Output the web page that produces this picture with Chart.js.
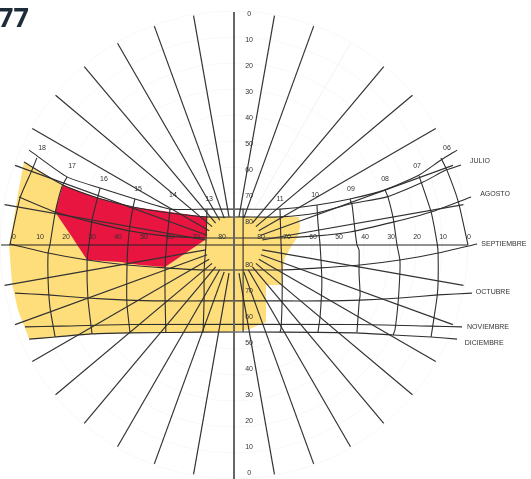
<!DOCTYPE html>
<html>
<head>
<meta charset="utf-8">
<title>Carta solar</title>
<script src="https://cdn.jsdelivr.net/npm/chart.js@4"></script>
<style>
  body { margin: 0; background: #fff; overflow: hidden; }
  #wrap { position: relative; width: 531px; height: 479px; overflow: hidden; }
  #chart { filter: blur(0.5px); }
  #num { position: absolute; left: -2px; top: -2px; font: bold 27px "Open Sans", sans-serif; color: #1e2b38; }
</style>
</head>
<body>
<div id="wrap">
  <canvas id="chart" width="531" height="479"></canvas>
  <div id="num">77</div>
</div>
<script>
// all positions are in degrees of the diagram, 0,0 = centre of the polar grid
const elevationTicks = [0, 10, 20, 30, 40, 50, 60, 70, 80];
const ringRadii = [10, 20, 30, 40, 50, 60, 70, 80, 90];
const northRays = [-80, -70, -60, -50, -40, -30, -20, -10, 10, 20, 40, 50, 60, 70, 80];
const southRays = [-80, -70, -60, -50, -40, -30, -20, -10, 10, 20, 30, 40, 50, 60, 70, 80];
const fadedRays = [30];

// shaded areas
const yellowArea = [[-80.8,31.9],[-65.8,23.1],[-52.3,18.1],[-38.8,14.6],[-24.6,12.3],[-10.4,10.8],[25,10.8],[25.4,6.9],[24.6,3.1],[22.3,0],[19.6,-5],[18.5,-10.8],[18.5,-15.4],[12.3,-15.4],[12.3,-29.6],[5,-32.7],[-1.5,-33.5],[-11.2,-33.5],[-40,-33.8],[-54.6,-34.2],[-68.8,-35.4],[-78.8,-36.2],[-83.1,-25],[-85.4,-14.6],[-86.5,0],[-85.4,5.8],[-83.5,17.3]];
const redArea = [[-65.8,23.1],[-52.3,18.1],[-38.8,14.6],[-24.6,12.7],[-10.4,10.8],[-10.4,4.6],[-11.2,1.9],[-26.5,-8.5],[-36.2,-7.7],[-43.8,-6.5],[-56.5,-5.8],[-62.3,3.1],[-68.8,12.7]];

// month curves, left to right
const julio = [[-78.8,36.5],[-64.2,26.2],[-51.5,21.9],[-38.1,17.7],[-24.6,13.8],[-10.4,13.8],[3.5,13.8],[17.7,13.8],[31.9,15.4],[44.6,17.7],[58.1,21.2],[71.2,26.9],[79.6,32.7],[85.8,36.5]];
const junioBajo = [[-80.8,31.9],[-65.8,23.1],[-52.3,18.1],[-38.8,14.6],[-24.6,12.3],[-10.4,10.8],[3.5,10.8],[17.7,10.8],[31.9,12.3],[44.6,15.8],[58.8,18.5],[72.7,24.2],[81.5,28.8],[87.3,30.8]];
const agosto = [[-82.7,18.5],[-68.8,12.7],[-54.6,8.8],[-40,5.4],[-26.5,3.5],[-10.4,2.7],[3.5,2.7],[17.7,2.7],[31.9,3.5],[44.6,5],[61.2,8.8],[75.8,12.7],[91.2,18.5]];
const septiembre = [[-86.2,0.4],[-71.5,-3.1],[-56.5,-5.8],[-41.2,-7.7],[-26.5,-8.8],[-11.5,-9.6],[3.5,-9.6],[18.5,-9.6],[33.1,-8.8],[48.5,-7.7],[63.8,-5.8],[78.5,-3.1],[93.5,0.4]];
const octubre = [[-84.2,-18.5],[-71.5,-19.2],[-56.5,-20.4],[-41.2,-21.2],[-26.5,-21.5],[-11.2,-21.5],[3.5,-21.5],[18.5,-21.5],[33.1,-21.5],[48.5,-21.2],[63.8,-20.4],[78.5,-19.2],[91.5,-18.5]];
const noviembre = [[-80.4,-31.5],[-66.9,-31.2],[-40,-30.6],[47.3,-30.6],[75.4,-31.2],[87.7,-31.5]];
const diciembre = [[-78.8,-36.2],[-68.8,-35.4],[-54.6,-34.2],[-40,-33.8],[-11.2,-33.5],[17.7,-33.5],[46.9,-33.8],[61.2,-34.6],[75.8,-35.4],[85.8,-36.2]];
const monthCurves = [julio, junioBajo, agosto, septiembre, octubre, noviembre, diciembre];

// hour curves, top to bottom
const h06 = [[79.6,33.5],[81.9,28.8],[86.2,16.9],[90,0]];
const h07 = [[71.2,26.5],[75.8,12.7],[78.1,0.8],[78.5,-3.1],[78.5,-14.2],[78.1,-20],[76.9,-28.1],[75.8,-35.4]];
const h08 = [[58.1,21.2],[59.2,18.5],[61.2,10.4],[62.7,0],[63.8,-5.8],[63.8,-10.8],[63.1,-22.3],[61.9,-32.7],[61.2,-34.6]];
const h09 = [[44.6,17.7],[45.4,15.4],[46.5,5.8],[47.3,0],[48.1,-1.9],[48.1,-10.8],[48.5,-19.2],[48.1,-22.3],[47.3,-33.5]];
const h10 = [[31.9,15.4],[32.3,8.5],[33.1,0],[33.8,-14.6],[33.1,-27.7],[32.3,-33.5]];
const h11 = [[17.7,13.8],[18.1,0],[18.5,-9.6],[18.5,-21.2],[18.1,-31.9],[17.7,-33.5]];
const h12 = [[3.5,13.8],[3.5,-33.5]];
const h13 = [[-10.4,13.8],[-10.8,0],[-11.5,-9.6],[-11.5,-21.2],[-11.9,-33.5]];
const h14 = [[-24.6,13.8],[-25.8,1.9],[-26.5,-8.5],[-26.5,-21.2],[-26.2,-33.8]];
const h15 = [[-38.1,17.7],[-38.8,14.6],[-40,7.7],[-40.8,0],[-41.2,-10.8],[-41.2,-22.3],[-40,-33.8]];
const h16 = [[-51.5,21.9],[-52.7,17.3],[-54.6,9.6],[-55.8,0],[-56.5,-5.8],[-56.2,-20.4],[-54.6,-34.2]];
const h17 = [[-64.2,26.2],[-66.2,22.3],[-68.8,12.3],[-70.8,0],[-71.5,-3.1],[-71.5,-13.5],[-70.8,-23.8],[-68.8,-35.4]];
const h18 = [[-75.8,33.5],[-77.7,28.8],[-82.3,18.1],[-86.2,0]];
const hourCurves = [h06, h07, h08, h09, h10, h11, h12, h13, h14, h15, h16, h17, h18];

const hourLabels = ["18", "17", "16", "15", "14", "13", "11", "10", "09", "08", "07", "06"];
const hourLabelX = [-73.8, -62.3, -50, -36.9, -23.5, -9.6, 17.7, 31.2, 45, 58.1, 70.4, 81.9];
const hourLabelY = [37.3, 30.4, 25.4, 21.5, 19.2, 17.7, 17.7, 19.2, 21.5, 25.4, 30.4, 37.3];

const monthLabels = ["JULIO", "AGOSTO", "SEPTIEMBRE", "OCTUBRE", "NOVIEMBRE", "DICIEMBRE"];
const monthLabelX = [94.6, 100.4, 103.8, 99.6, 97.7, 96.2];
const monthLabelY = [32.3, 19.6, 0.4, -18.1, -31.5, -37.7];

const pts = (list) => list.map(p => ({ x: p[0], y: p[1] }));
const rad = (a) => a * Math.PI / 180;

function ringPts(r) {
  const out = [];
  for (let a = 0; a <= 360; a += 6) out.push({ x: r * Math.sin(rad(a)), y: r * Math.cos(rad(a)) });
  return out;
}

// a ray from the small centre circle out to the horizon, sign -1 = south half
function rayPts(angle, sign) {
  return [11, 89.6].map(r => ({ x: r * Math.sin(rad(angle)), y: sign * r * Math.cos(rad(angle)) }));
}

const datasets = [];
function add(data, color, width, extra) {
  datasets.push(Object.assign({
    data, borderColor: color, borderWidth: width, showLine: true,
    pointRadius: 0, tension: 0, order: -datasets.length
  }, extra || {}));
}

ringRadii.forEach(r => add(ringPts(r), "#f8f8f8", 1));
fadedRays.forEach(a => add(rayPts(a, 1), "#f2f2f2", 1));
add(pts(yellowArea), "rgba(0,0,0,0)", 0, { fill: "shape", backgroundColor: "#fedd7b" });
add(pts(redArea), "rgba(0,0,0,0)", 0, { fill: "shape", backgroundColor: "#e7153f" });
northRays.forEach(a => add(rayPts(a, 1), "#333", 1.2));
southRays.forEach(a => add(rayPts(a, -1), "#333", 1.2));
monthCurves.forEach(c => add(pts(c), "#2e2e2e", 1.1, { tension: 0.2 }));
hourCurves.forEach(c => add(pts(c), "#2e2e2e", 1.1, { tension: 0.2 }));
add(pts([[-89.6, 0], [90, 0]]), "#222", 1.2);
add(pts([[0, 89.6], [0, -90]]), "#666", 2);

const textPlugin = {
  id: "diagramText",
  afterDatasetsDraw(chart) {
    const { ctx, scales: { x, y } } = chart;
    const put = (txt, dx, dy) => ctx.fillText(txt, x.getPixelForValue(dx), y.getPixelForValue(dy));
    ctx.save();
    ctx.textAlign = "center";
    ctx.textBaseline = "middle";
    ctx.fillStyle = "#333";
    ctx.font = '7px "Liberation Sans", Arial, sans-serif';
    elevationTicks.forEach(v => {
      put(String(v), 5.8, 88.8 - v);
      put(String(v), 5.8, -87.7 + v);
      put(String(v), -84.6 + v, 3.1);
      put(String(v), 90.4 - v, 3.1);
    });
    hourLabels.forEach((t, i) => put(t, hourLabelX[i], hourLabelY[i]));
    monthLabels.forEach((t, i) => put(t, monthLabelX[i], monthLabelY[i]));
    ctx.restore();
  }
};

new Chart(document.getElementById("chart"), {
  type: "scatter",
  data: { datasets },
  plugins: [textPlugin],
  options: {
    responsive: false,
    animation: false,
    layout: { padding: 0 },
    plugins: { legend: { display: false }, tooltip: { enabled: false } },
    scales: {
      x: { type: "linear", display: false, min: -90, max: 114.23 },
      y: { type: "linear", display: false, min: -90, max: 94.23 }
    }
  }
});
</script>
</body>
</html>
